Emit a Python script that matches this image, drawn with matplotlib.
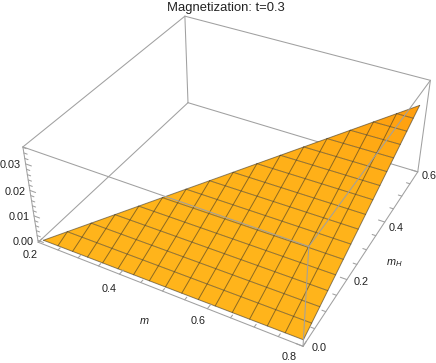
import numpy as np
import matplotlib
matplotlib.use('Agg')
import matplotlib.pyplot as plt
from mpl_toolkits.mplot3d.art3d import Poly3DCollection

plt.rcParams['font.family'] = ['Liberation Sans', 'DejaVu Sans']
plt.rcParams['mathtext.fontset'] = 'custom'
plt.rcParams['mathtext.it'] = 'Liberation Sans:italic'
plt.rcParams['mathtext.rm'] = 'Liberation Sans'

#Box limits and where the corners sit in the picture
z_lim = [-0.0008, 0.0362]
corners = [(0.2, 0.0, z_lim[0]), (0.8, 0.0, z_lim[0]), (0.8, 0.6, z_lim[0]), (0.2, 0.6, z_lim[0]),
           (0.2, 0.0, z_lim[1]), (0.8, 0.0, z_lim[1]), (0.8, 0.6, z_lim[1]), (0.2, 0.6, z_lim[1])]
corner_px = [(38, 242), (303, 346), (418, 172), (188, 103),
             (23, 147), (309, 247), (430, 80), (185, 16)]

#Surface
tip = (0.215, 0.0, 0.0010)
low_end = (0.8, 0.0, 0.0018)
top_end = (0.8, 0.545, 0.0314)

#Mesh: each m line runs from mH=0 to the diagonal edge, each mH line from the diagonal edge to m=0.8
m_mesh = [0.2516, 0.2881, 0.3247, 0.3613, 0.3978, 0.4344, 0.4709, 0.5075, 0.5441, 0.5806, 0.6172, 0.6538, 0.6903, 0.7269, 0.7634]
h_mesh = [0.034, 0.068, 0.102, 0.136, 0.170, 0.204, 0.238, 0.272, 0.307, 0.341, 0.375, 0.409, 0.443, 0.477, 0.511]
z_low = [0.00105, 0.0011, 0.00115, 0.0012, 0.00125, 0.0013, 0.00135, 0.0014, 0.00145, 0.0015, 0.00155, 0.0016, 0.00165, 0.0017, 0.00175]
z_diag = [0.0029, 0.0048, 0.0067, 0.0086, 0.0105, 0.0124, 0.0143, 0.0162, 0.0181, 0.0200, 0.0219, 0.0238, 0.0257, 0.0276, 0.0295]
z_right = [0.00365, 0.0055, 0.00735, 0.0092, 0.01105, 0.0129, 0.01475, 0.0166, 0.01845, 0.0203, 0.02215, 0.024, 0.02585, 0.0277, 0.02955]

strip_colors = ['#ffb41b', '#ffb41b', '#ffb41b', '#ffb41a', '#ffb41a', '#ffb31a', '#ffb31a', '#ffb219',
                '#ffb119', '#ffb018', '#ffae17', '#ffac16', '#ffa914', '#ffa612', '#ffa210', '#ff9f0f']

#Ticks
m_major = [0.2, 0.4, 0.6, 0.8]
h_major = [0.0, 0.2, 0.4, 0.6]
z_major = [0.00, 0.01, 0.02, 0.03]
m_minor = [0.25, 0.3, 0.35, 0.45, 0.5, 0.55, 0.65, 0.7, 0.75]
h_minor = [0.05, 0.1, 0.15, 0.25, 0.3, 0.35, 0.45, 0.5, 0.55]
z_minor = [0.002, 0.004, 0.006, 0.008, 0.012, 0.014, 0.016, 0.018, 0.022, 0.024, 0.026, 0.028, 0.032, 0.034, 0.036]

#Where the labels hang, in box coordinates
m_label_m = [0.211, 0.407, 0.6, 0.789]
m_label_h = [-0.04, -0.045, -0.036, -0.035]
h_label_h = [0.0, 0.195, 0.378, 0.58]

gray = '#a0a0a0'
mesh_color = (0.25, 0.22, 0.15, 0.6)
text_color = '#222222'
W, H = 436, 363

#Camera from the eight box corners (direct linear transform)
z_scale = 20.0
rows = []
for (x, y, z), (u, v) in zip(corners, corner_px):
    v = H - v
    p = [x, y, z * z_scale, 1]
    rows.append(p + [0, 0, 0, 0] + [-u * c for c in p])
    rows.append([0, 0, 0, 0] + p + [-v * c for c in p])
P = np.linalg.svd(np.array(rows, dtype=float))[2][-1].reshape(3, 4)
P = P @ np.diag([1, 1, z_scale, 1])
if P[2, 3] < 0:
    P = -P

fig = plt.figure(figsize=(W / 100, H / 100), dpi=100)
ax = fig.add_axes([0, -0.1, 1, 1.2], projection='3d')
ax.set_axis_off()
ax.set_proj_type('ortho')   #no clipping of points in Line3D
ax.computed_zorder = False

def camera_proj():
    T = np.linalg.inv(ax.transData.get_affine().get_matrix())
    Q = T @ P
    return np.array([Q[0], Q[1], [0, 0, 1, Q[2, 3] * 0.5], Q[2]])
ax.get_proj = camera_proj

def seg(a, b, z=1, color=gray, lw=0.75):
    ax.plot([a[0], b[0]], [a[1], b[1]], [a[2], b[2]], color=color, lw=lw, zorder=z, solid_capstyle='round')

def label(x, y, z, s):
    p = P @ np.array([x, y, z, 1.0])
    fig.text(p[0] / p[2] / W, p[1] / p[2] / H, s, ha='center', va='center', fontsize=7.8, color=text_color)

#Back edges of the box, behind the surface
for i, j in [(0, 3), (3, 2), (3, 7)]:
    seg(corners[i], corners[j], 1)

#Surface, as strips between the lines of constant mH
left_m = [tip[0]] + m_mesh + [top_end[0]]
left_h = [tip[1]] + h_mesh + [top_end[1]]
left_z = [tip[2]] + z_diag + [top_end[2]]
right_z = [low_end[2]] + z_right + [top_end[2]]
polys = []
for i in range(len(left_m) - 1):
    polys.append([(left_m[i], left_h[i], left_z[i]), (0.8, left_h[i], right_z[i]),
                  (0.8, left_h[i + 1], right_z[i + 1]), (left_m[i + 1], left_h[i + 1], left_z[i + 1])])
surf = Poly3DCollection(polys, facecolors=strip_colors, edgecolors='none', zorder=2)
ax.add_collection3d(surf)

#Mesh and outline
for i in range(len(m_mesh)):
    seg((m_mesh[i], 0.0, z_low[i]), (m_mesh[i], h_mesh[i], z_diag[i]), 2.5, mesh_color, 0.7)
    seg((m_mesh[i], h_mesh[i], z_diag[i]), (0.8, h_mesh[i], z_right[i]), 2.5, mesh_color, 0.7)
seg(tip, low_end, 2.6, mesh_color, 0.7)
seg(low_end, top_end, 2.6, mesh_color, 0.7)
seg(top_end, tip, 2.6, mesh_color, 0.7)

#Front and top edges, over the surface
for i, j in [(0, 1), (1, 2), (0, 4), (1, 5), (2, 6), (4, 5), (5, 6), (6, 7), (7, 4)]:
    seg(corners[i], corners[j], 3)

#Ticks
for v in m_major:
    seg((v, 0, z_lim[0]), (v, 0.014, z_lim[0]), 3)
for v in m_minor:
    seg((v, 0, z_lim[0]), (v, 0.008, z_lim[0]), 3)
for v in h_major:
    seg((0.8, v, z_lim[0]), (0.786, v, z_lim[0]), 3)
for v in h_minor:
    seg((0.8, v, z_lim[0]), (0.792, v, z_lim[0]), 3)
for v in z_major:
    seg((0.2, 0, v), (0.214, 0, v), 3)
for v in z_minor:
    seg((0.2, 0, v), (0.208, 0, v), 3)

#Tick labels
for v, lm, lh in zip(m_major, m_label_m, m_label_h):
    label(lm, lh, z_lim[0], '%.1f' % v)
for v, lh in zip(h_major, h_label_h):
    label(0.832, lh, z_lim[0] + 0.002, '%.1f' % v)
for v in z_major:
    label(0.177, -0.018, v, '%.2f' % v)
label(0.513, -0.085, z_lim[0], '$m$')
label(0.86, 0.3, z_lim[0] - 0.0016, '$m_H$')

fig.text(226 / W, 1 - 8 / H, 'Magnetization: t=0.3', ha='center', va='center', fontsize=9.4, color=text_color)
fig.savefig('out.png', dpi=100)
